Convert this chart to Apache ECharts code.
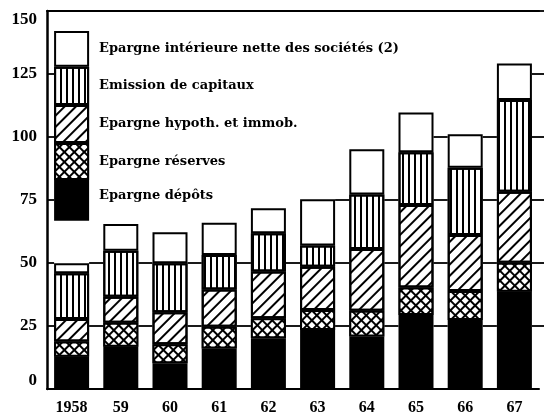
<!DOCTYPE html>
<html>
<head>
<meta charset="utf-8">
<script src="https://cdn.jsdelivr.net/npm/echarts@6/dist/echarts.min.js"></script>
<style>
  html, body { margin: 0; padding: 0; background: #fff; }
  #chart { width: 544px; height: 419px; }
</style>
</head>
<body>
<div id="chart"></div>
<script>
// years on the x axis
const years = ['1958', '59', '60', '61', '62', '63', '64', '65', '66', '67']

// series names, bottom of the stack first
const seriesNames = [
  'Epargne dépôts',
  'Epargne réserves',
  'Epargne hypoth. et immob.',
  'Emission de capitaux',
  'Epargne intérieure nette des sociétés (2)'
]

// values
const depots     = [12.8, 16.8, 10.2, 16.1, 20.1, 23.4, 20.8, 29.4, 27.4, 38.6]
const reserves   = [6.0, 9.5, 7.6, 8.6, 8.0, 7.9, 10.3, 10.9, 11.5, 11.5]
const hypoth     = [9.0, 10.3, 12.7, 14.8, 18.5, 17.2, 24.5, 32.7, 22.2, 28.2]
const emission   = [18.1, 18.3, 19.4, 13.7, 15.2, 8.4, 21.6, 20.9, 26.7, 36.4]
const interieure = [4.0, 10.6, 12.3, 12.8, 9.9, 18.4, 17.9, 15.8, 13.3, 14.5]

// the key drawn as a floating column above the 1958 bar
const legendBase = 66.8
const legendSizes = [16.1, 14.7, 15.1, 15.2, 14.2]

const yTicks = [0, 25, 50, 75, 100, 125, 150]
const yMax = 150

const BAR_W = 35
const serif = '"Liberation Serif", "DejaVu Serif", serif'

// fill patterns, same order as seriesNames
const fills = [
  { color: '#000' },
  {
    color: '#000',
    decal: { symbol: 'rect', symbolSize: 1, color: '#fff', dashArrayX: [5, 2], dashArrayY: [5, 2], rotation: Math.PI / 4 }
  },
  {
    color: '#fff',
    decal: { symbol: 'rect', symbolSize: 1, color: '#000', dashArrayX: [1, 0], dashArrayY: [1.6, 6], rotation: -Math.PI / 4 }
  },
  {
    color: '#fff',
    decal: { symbol: 'rect', symbolSize: 1, color: '#000', dashArrayX: [2, 4], dashArrayY: [1, 0], rotation: 0 }
  },
  { color: '#fff' }
]

const values = [depots, reserves, hypoth, emission, interieure]

// bar totals, used to decide which grid line pieces show between bars
const totals = years.map((_, i) => values.reduce((s, arr) => s + arr[i], 0))
const legendTop = legendBase + legendSizes.reduce((s, v) => s + v, 0)

// [index, height reached on the right side of the bar, height on the left side]
const gapData = years.map((_, i) => [
  i,
  i < years.length - 1 ? Math.min(totals[i], totals[i + 1]) : yMax,
  i === 0 ? legendTop : 0
])

const chart = echarts.init(document.getElementById('chart'))

const series = []

// grid line pieces, only drawn in the gaps between two bars tall enough
series.push({
  type: 'custom',
  xAxisIndex: 0,
  yAxisIndex: 0,
  silent: true,
  z: 1,
  data: gapData,
  encode: { x: 0, y: 1 },
  renderItem: function (params, api) {
    const i = api.value(0)
    const right = api.value(1)
    const left = api.value(2)
    const center = api.coord([i, 0])[0]
    const band = api.size([1, 0])[0]
    const half = BAR_W / 2
    const last = i === years.length - 1
    const children = []
    const addPiece = (x1, x2, limit) => {
      yTicks.forEach(t => {
        if (t > 0 && t < yMax && t <= limit + 0.5) {
          const y = api.coord([i, t])[1]
          children.push({
            type: 'line',
            shape: { x1: x1, y1: y, x2: x2, y2: y },
            style: { stroke: '#000', lineWidth: 1.8 }
          })
        }
      })
    }
    addPiece(center + half, last ? center + band / 2 : center + band - half, right)
    if (left > 0) addPiece(center - band / 2, center - half, left)
    return { type: 'group', children: children }
  }
})

values.forEach((data, i) => {
  series.push({
    name: seriesNames[i],
    type: 'bar',
    stack: 'total',
    xAxisIndex: 0,
    yAxisIndex: 0,
    barWidth: BAR_W,
    data: data,
    itemStyle: Object.assign({ borderColor: '#000', borderWidth: 2 }, fills[i])
  })
})

// key column: transparent base then one block per series
series.push({
  type: 'bar',
  stack: 'key',
  xAxisIndex: 1,
  yAxisIndex: 0,
  barWidth: BAR_W,
  silent: true,
  data: [legendBase],
  itemStyle: { color: 'rgba(0,0,0,0)', borderWidth: 0 }
})
legendSizes.forEach((v, i) => {
  series.push({
    name: seriesNames[i],
    type: 'bar',
    stack: 'key',
    xAxisIndex: 1,
    yAxisIndex: 0,
    barWidth: BAR_W,
    data: [v],
    itemStyle: Object.assign({ borderColor: '#000', borderWidth: 2 }, fills[i]),
    label: {
      show: true,
      position: 'right',
      distance: 10,
      formatter: '{a}',
      color: '#000',
      fontFamily: '"DejaVu Serif", serif',
      fontWeight: 'bold',
      fontSize: 13,
      offset: i === 0 ? [0, -5] : [0, 0]
    }
  })
})

// empty series so the thin right-hand grid draws its grid lines
series.push({ type: 'line', xAxisIndex: 2, yAxisIndex: 1, data: [] })

const option = {
  backgroundColor: '#fff',
  animation: false,
  grid: [
    { left: 47, right: 5, top: 11, bottom: 30 },
    { left: 539, right: 0, top: 11, bottom: 30 }
  ],
  xAxis: [
    {
      type: 'category',
      gridIndex: 0,
      data: years,
      axisLine: { lineStyle: { color: '#000', width: 2 } },
      axisTick: { show: false },
      axisLabel: {
        color: '#000',
        fontFamily: serif,
        fontWeight: 'bold',
        fontSize: 16,
        margin: 11
      }
    },
    {
      type: 'category',
      gridIndex: 0,
      position: 'top',
      data: years,
      axisLine: { lineStyle: { color: '#000', width: 2 } },
      axisTick: { show: false },
      axisLabel: { show: false }
    },
    { type: 'value', gridIndex: 1, show: false }
  ],
  yAxis: [
    {
      type: 'value',
      gridIndex: 0,
      min: 0,
      max: yMax,
      interval: 25,
      axisLine: { show: true, lineStyle: { color: '#000', width: 2.5 } },
      axisTick: { show: false },
      splitLine: { show: false },
      axisLabel: {
        color: '#000',
        fontFamily: serif,
        fontWeight: 'bold',
        fontSize: 17,
        margin: 10,
        verticalAlignMinLabel: 'bottom',
        verticalAlignMaxLabel: 'top'
      }
    },
    {
      type: 'value',
      gridIndex: 1,
      min: 0,
      max: yMax,
      interval: 25,
      axisLine: { show: false },
      axisTick: { show: false },
      axisLabel: { show: false },
      splitLine: {
        lineStyle: {
          color: yTicks.map(t => (t === 0 ? 'rgba(0,0,0,0)' : '#000')),
          width: 1.8
        }
      }
    }
  ],
  series: series
}

chart.setOption(option)
</script>
</body>
</html>
